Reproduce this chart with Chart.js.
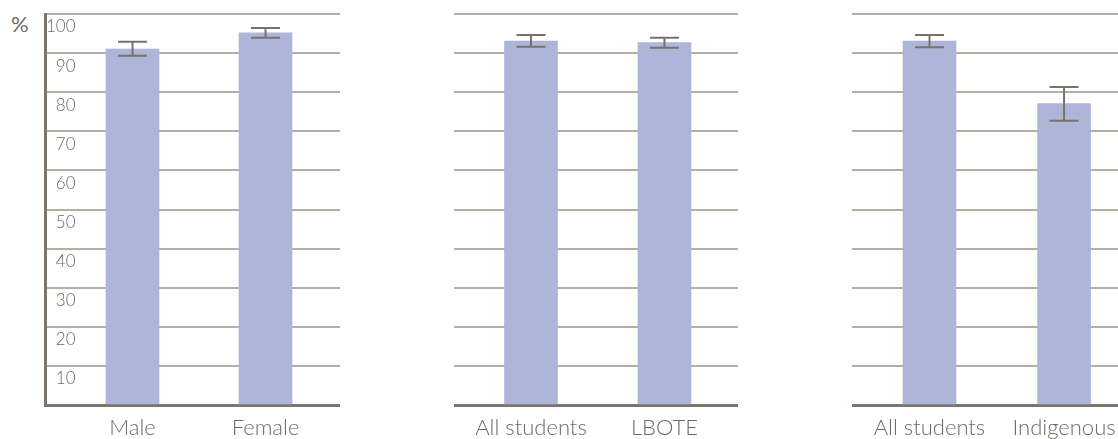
<!DOCTYPE html>
<html><head><meta charset="utf-8">
<script src="https://cdn.jsdelivr.net/npm/chart.js@4.4.1/dist/chart.umd.min.js"></script>
<style>
html,body{margin:0;padding:0;background:#fff;width:1118px;height:439px;overflow:hidden;}
.panel{position:absolute;top:0;height:439px;}
#pct{position:absolute;left:11px;top:13px;font:22px Lato, sans-serif;color:#6e6a63;line-height:1;}
</style></head><body>
<div id="pct">%</div>
<div class="panel" style="left:0;width:340px"><canvas id="c1"></canvas></div>
<div class="panel" style="left:454px;width:284px"><canvas id="c2"></canvas></div>
<div class="panel" style="left:852px;width:266px"><canvas id="c3"></canvas></div>
<script>
// ---- data ----
const genderCategories = ['Male', 'Female'];
const genderValues = [91.0, 95.2];
const genderLow = [89.3, 93.9];
const genderHigh = [92.9, 96.4];

const lboteCategories = ['All students', 'LBOTE'];
const lboteValues = [93.1, 92.7];
const lboteLow = [91.6, 91.4];
const lboteHigh = [94.6, 93.9];

const indigCategories = ['All students', 'Indigenous'];
const indigValues = [93.1, 77.1];
const indigLow = [91.5, 72.7];
const indigHigh = [94.6, 81.3];

const yTickLabels = [10, 20, 30, 40, 50, 60, 70, 80, 90, 100];

// ---- styles ----
const BAR = '#adb5d8';
const GRID = '#b3afa7';
const AXIS = '#7a766d';
const TEXT = '#6e6a63';
const ERR = '#77736a';
const FONT = 'Lato, "Open Sans", sans-serif';

const errorBars = {
  id: 'errorBars',
  afterDatasetsDraw(chart) {
    const ctx = chart.ctx, y = chart.scales.y;
    const ds = chart.data.datasets[0];
    const meta = chart.getDatasetMeta(0);
    ctx.save();
    ctx.strokeStyle = ERR;
    ctx.lineWidth = 2;
    const cap = 29;
    meta.data.forEach((bar, i) => {
      const x = bar.x;
      const yl = y.getPixelForValue(ds.low[i]);
      const yh = y.getPixelForValue(ds.high[i]);
      ctx.beginPath();
      ctx.moveTo(x, yl); ctx.lineTo(x, yh);
      ctx.moveTo(x - cap / 2, yl); ctx.lineTo(x + cap / 2, yl);
      ctx.moveTo(x - cap / 2, yh); ctx.lineTo(x + cap / 2, yh);
      ctx.stroke();
    });
    ctx.restore();
  }
};

function makeChart(id, cats, vals, low, high, xmin, xmax, leftPad, showY) {
  return new Chart(document.getElementById(id), {
    type: 'bar',
    data: {
      datasets: [{
        data: cats.map((c, i) => ({ x: i, y: vals[i] })),
        low: low, high: high,
        backgroundColor: BAR,
        borderWidth: 0,
        barThickness: 53
      }]
    },
    options: {
      responsive: true,
      maintainAspectRatio: false,
      animation: false,
      events: [],
      layout: { padding: { left: leftPad, right: 0, top: 14, bottom: 0 } },
      plugins: { legend: { display: false }, tooltip: { enabled: false } },
      scales: {
        x: {
          type: 'linear',
          offset: false,
          min: xmin, max: xmax,
          afterBuildTicks: (s) => { s.ticks = cats.map((c, i) => ({ value: i })); },
          afterFit: (s) => { s.height = 34; },
          grid: { display: false, offset: false },
          border: { display: true, color: AXIS, width: 3 },
          ticks: {
            color: TEXT, padding: 2,
            font: { family: FONT, size: 22, weight: 300 },
            autoSkip: false, maxRotation: 0,
            callback: (v) => cats[v]
          }
        },
        y: {
          type: 'linear',
          min: 0, max: 100,
          afterFit: (s) => { s.width = 0; },
          grid: { color: GRID, lineWidth: 2, drawTicks: false },
          border: { display: showY, color: AXIS, width: 3 },
          ticks: {
            display: showY,
            stepSize: 10,
            mirror: true,
            crossAlign: 'far',
            padding: 1,
            labelOffset: 13,
            color: TEXT,
            font: { family: FONT, size: 17, weight: 300 },
            callback: (v) => yTickLabels.includes(v) ? String(v) : ''
          }
        }
      }
    },
    plugins: [errorBars]
  });
}

makeChart('c1', genderCategories, genderValues, genderLow, genderHigh, -0.658, 1.560, 45, true);
makeChart('c2', lboteCategories, lboteValues, lboteLow, lboteHigh, -0.577, 1.551, 0, false);
makeChart('c3', indigCategories, indigValues, indigLow, indigHigh, -0.576, 1.401, 0, false);
</script>
</body></html>
